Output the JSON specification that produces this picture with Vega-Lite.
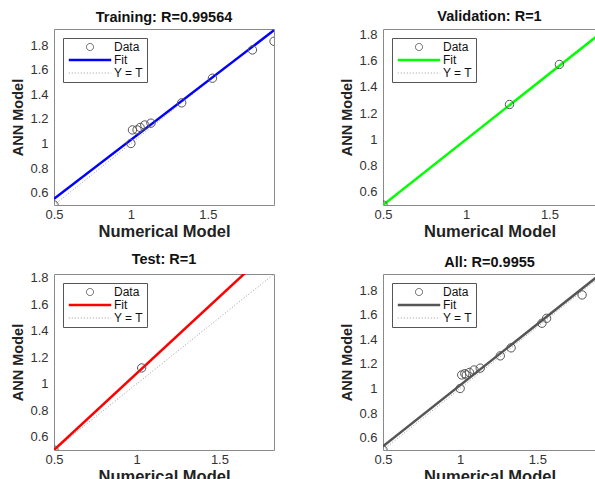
{
  "$schema": "https://vega.github.io/schema/vega-lite/v6.json",
  "padding": {"left": 10, "top": 8, "right": 0, "bottom": 0},
  "autosize": {"type": "pad"},
  "config": {
    "font": "Liberation Sans",
    "view": {"stroke": "#8a8a8a", "strokeWidth": 1},
    "title": {"fontSize": 14.5, "fontWeight": "bold", "color": "#111111", "offset": 4, "font": "Liberation Sans"},
    "axis": {"grid": false, "ticks": false, "domain": false, "labelFontSize": 13, "labelColor": "#333333", "labelFont": "Liberation Sans", "titleFont": "Liberation Sans", "titleFontWeight": "bold", "titleColor": "#222222", "labelFlush": false, "labelOverlap": false, "format": "~g"},
    "axisX": {"labelPadding": 3, "titlePadding": 2, "titleFontSize": 16.5},
    "axisY": {"labelPadding": 6, "titlePadding": 4, "titleFontSize": 14.5},
    "legend": {
      "orient": "top-left", "offset": 9, "title": null,
      "strokeColor": "#555555", "fillColor": "white", "padding": 3,
      "labelFontSize": 12, "labelFont": "Liberation Sans", "labelColor": "#111111",
      "symbolSize": 50, "symbolOffset": 18, "labelOffset": 18, "rowPadding": 1,
      "symbolStrokeWidth": 1, "labelLimit": 60
    }
  },
  "datasets": {
    "d": [
      {"panel": "Training", "series": "Data", "x": 0.5, "y": 0.5},
      {"panel": "Training", "series": "Data", "x": 1.0, "y": 1.0},
      {"panel": "Training", "series": "Data", "x": 1.01, "y": 1.11},
      {"panel": "Training", "series": "Data", "x": 1.04, "y": 1.11},
      {"panel": "Training", "series": "Data", "x": 1.06, "y": 1.13},
      {"panel": "Training", "series": "Data", "x": 1.09, "y": 1.15},
      {"panel": "Training", "series": "Data", "x": 1.13, "y": 1.165},
      {"panel": "Training", "series": "Data", "x": 1.33, "y": 1.33},
      {"panel": "Training", "series": "Data", "x": 1.53, "y": 1.53},
      {"panel": "Training", "series": "Data", "x": 1.79, "y": 1.76},
      {"panel": "Training", "series": "Data", "x": 1.93, "y": 1.83},
      {"panel": "Training", "series": "Fit", "x": 0.5, "y": 0.55},
      {"panel": "Training", "series": "Fit", "x": 1.93, "y": 1.92},
      {"panel": "Training", "series": "Y = T", "x": 0.5, "y": 0.5},
      {"panel": "Training", "series": "Y = T", "x": 1.93, "y": 1.93},
      {"panel": "Validation", "series": "Data", "x": 0.5, "y": 0.5},
      {"panel": "Validation", "series": "Data", "x": 1.26, "y": 1.265},
      {"panel": "Validation", "series": "Data", "x": 1.56, "y": 1.57},
      {"panel": "Validation", "series": "Fit", "x": 0.5, "y": 0.5},
      {"panel": "Validation", "series": "Fit", "x": 1.84, "y": 1.84},
      {"panel": "Validation", "series": "Y = T", "x": 0.5, "y": 0.5},
      {"panel": "Validation", "series": "Y = T", "x": 1.84, "y": 1.84},
      {"panel": "Test", "series": "Data", "x": 0.5, "y": 0.5},
      {"panel": "Test", "series": "Data", "x": 1.03, "y": 1.12},
      {"panel": "Test", "series": "Fit", "x": 0.5, "y": 0.5},
      {"panel": "Test", "series": "Fit", "x": 1.83, "y": 2.04},
      {"panel": "Test", "series": "Y = T", "x": 0.5, "y": 0.5},
      {"panel": "Test", "series": "Y = T", "x": 1.83, "y": 1.83},
      {"panel": "All", "series": "Data", "x": 0.5, "y": 0.5},
      {"panel": "All", "series": "Data", "x": 1.0, "y": 1.0},
      {"panel": "All", "series": "Data", "x": 1.01, "y": 1.11},
      {"panel": "All", "series": "Data", "x": 1.03, "y": 1.12},
      {"panel": "All", "series": "Data", "x": 1.04, "y": 1.11},
      {"panel": "All", "series": "Data", "x": 1.06, "y": 1.13},
      {"panel": "All", "series": "Data", "x": 1.09, "y": 1.15},
      {"panel": "All", "series": "Data", "x": 1.13, "y": 1.165},
      {"panel": "All", "series": "Data", "x": 1.26, "y": 1.265},
      {"panel": "All", "series": "Data", "x": 1.33, "y": 1.33},
      {"panel": "All", "series": "Data", "x": 1.53, "y": 1.53},
      {"panel": "All", "series": "Data", "x": 1.56, "y": 1.57},
      {"panel": "All", "series": "Data", "x": 1.79, "y": 1.76},
      {"panel": "All", "series": "Data", "x": 1.93, "y": 1.83},
      {"panel": "All", "series": "Fit", "x": 0.5, "y": 0.53},
      {"panel": "All", "series": "Fit", "x": 1.93, "y": 1.95},
      {"panel": "All", "series": "Y = T", "x": 0.5, "y": 0.5},
      {"panel": "All", "series": "Y = T", "x": 1.93, "y": 1.93}
    ]
  },
  "data": {"name": "d"},
  "columns": 2,
  "spacing": {"row": 69, "column": 109},
  "bounds": "flush",
  "resolve": {"scale": {"color": "independent"}, "legend": {"color": "independent"}},
  "concat": [
    {
      "width": 220, "height": 176,
      "title": "Training: R=0.99564",
      "transform": [{"filter": "datum.panel === 'Training'"}],
      "encoding": {
        "x": {"field": "x", "type": "quantitative", "scale": {"domain": [0.5, 1.93], "nice": false, "zero": false}, "axis": {"title": "Numerical Model", "values": [0.5, 1, 1.5]}},
        "y": {"field": "y", "type": "quantitative", "scale": {"domain": [0.5, 1.93], "nice": false, "zero": false}, "axis": {"title": "ANN Model", "values": [0.6, 0.8, 1, 1.2, 1.4, 1.6, 1.8]}},
        "color": {"field": "series", "type": "nominal", "scale": {"domain": ["Data", "Fit", "Y = T"], "range": ["#555555", "#0000ff", "#9a9a9a"]},
          "legend": {"encode": {"symbols": {"update": {
            "shape": {"signal": "datum.value === 'Data' ? 'circle' : 'M-6,0H6'"},
            "strokeWidth": {"signal": "datum.value === 'Fit' ? 2.5 : 1"},
            "strokeDash": {"signal": "datum.value === 'Y = T' ? [1,2] : [1,0]"},
            "fill": {"value": "transparent"}, "opacity": {"value": 1}}}}}}
      },
      "layer": [
        {"transform": [{"filter": "datum.series === 'Y = T'"}], "mark": {"type": "line", "clip": true, "strokeWidth": 1, "strokeDash": [1, 2]}, "encoding": {}},
        {"transform": [{"filter": "datum.series === 'Fit'"}], "mark": {"type": "line", "clip": true, "strokeWidth": 2.5}, "encoding": {}},
        {"transform": [{"filter": "datum.series === 'Data'"}], "mark": {"type": "point", "shape": "circle", "filled": false, "size": 70, "opacity": 1, "strokeWidth": 1, "clip": true}, "encoding": {}}
      ]
    },
    {
      "width": 213, "height": 176,
      "title": "Validation: R=1",
      "transform": [{"filter": "datum.panel === 'Validation'"}],
      "encoding": {
        "x": {"field": "x", "type": "quantitative", "scale": {"domain": [0.5, 1.78], "nice": false, "zero": false}, "axis": {"title": "Numerical Model", "values": [0.5, 1, 1.5]}},
        "y": {"field": "y", "type": "quantitative", "scale": {"domain": [0.5, 1.84], "nice": false, "zero": false}, "axis": {"title": "ANN Model", "values": [0.6, 0.8, 1, 1.2, 1.4, 1.6, 1.8]}},
        "color": {"field": "series", "type": "nominal", "scale": {"domain": ["Data", "Fit", "Y = T"], "range": ["#555555", "#00ff00", "#9a9a9a"]},
          "legend": {"encode": {"symbols": {"update": {
            "shape": {"signal": "datum.value === 'Data' ? 'circle' : 'M-6,0H6'"},
            "strokeWidth": {"signal": "datum.value === 'Fit' ? 2.5 : 1"},
            "strokeDash": {"signal": "datum.value === 'Y = T' ? [1,2] : [1,0]"},
            "fill": {"value": "transparent"}, "opacity": {"value": 1}}}}}}
      },
      "layer": [
        {"transform": [{"filter": "datum.series === 'Y = T'"}], "mark": {"type": "line", "clip": true, "strokeWidth": 1, "strokeDash": [1, 2]}, "encoding": {}},
        {"transform": [{"filter": "datum.series === 'Fit'"}], "mark": {"type": "line", "clip": true, "strokeWidth": 2.5}, "encoding": {}},
        {"transform": [{"filter": "datum.series === 'Data'"}], "mark": {"type": "point", "shape": "circle", "filled": false, "size": 70, "opacity": 1, "strokeWidth": 1, "clip": true}, "encoding": {}}
      ]
    },
    {
      "width": 220, "height": 176,
      "title": "Test: R=1",
      "transform": [{"filter": "datum.panel === 'Test'"}],
      "encoding": {
        "x": {"field": "x", "type": "quantitative", "scale": {"domain": [0.5, 1.83], "nice": false, "zero": false}, "axis": {"title": "Numerical Model", "values": [0.5, 1, 1.5]}},
        "y": {"field": "y", "type": "quantitative", "scale": {"domain": [0.5, 1.83], "nice": false, "zero": false}, "axis": {"title": "ANN Model", "values": [0.6, 0.8, 1, 1.2, 1.4, 1.6, 1.8]}},
        "color": {"field": "series", "type": "nominal", "scale": {"domain": ["Data", "Fit", "Y = T"], "range": ["#555555", "#ff0000", "#9a9a9a"]},
          "legend": {"encode": {"symbols": {"update": {
            "shape": {"signal": "datum.value === 'Data' ? 'circle' : 'M-6,0H6'"},
            "strokeWidth": {"signal": "datum.value === 'Fit' ? 2.5 : 1"},
            "strokeDash": {"signal": "datum.value === 'Y = T' ? [1,2] : [1,0]"},
            "fill": {"value": "transparent"}, "opacity": {"value": 1}}}}}}
      },
      "layer": [
        {"transform": [{"filter": "datum.series === 'Y = T'"}], "mark": {"type": "line", "clip": true, "strokeWidth": 1, "strokeDash": [1, 2]}, "encoding": {}},
        {"transform": [{"filter": "datum.series === 'Fit'"}], "mark": {"type": "line", "clip": true, "strokeWidth": 2.5}, "encoding": {}},
        {"transform": [{"filter": "datum.series === 'Data'"}], "mark": {"type": "point", "shape": "circle", "filled": false, "size": 70, "opacity": 1, "strokeWidth": 1, "clip": true}, "encoding": {}}
      ]
    },
    {
      "width": 213, "height": 176,
      "title": "All: R=0.9955",
      "transform": [{"filter": "datum.panel === 'All'"}],
      "encoding": {
        "x": {"field": "x", "type": "quantitative", "scale": {"domain": [0.5, 1.88], "nice": false, "zero": false}, "axis": {"title": "Numerical Model", "values": [0.5, 1, 1.5]}},
        "y": {"field": "y", "type": "quantitative", "scale": {"domain": [0.5, 1.93], "nice": false, "zero": false}, "axis": {"title": "ANN Model", "values": [0.6, 0.8, 1, 1.2, 1.4, 1.6, 1.8]}},
        "color": {"field": "series", "type": "nominal", "scale": {"domain": ["Data", "Fit", "Y = T"], "range": ["#555555", "#555555", "#9a9a9a"]},
          "legend": {"encode": {"symbols": {"update": {
            "shape": {"signal": "datum.value === 'Data' ? 'circle' : 'M-6,0H6'"},
            "strokeWidth": {"signal": "datum.value === 'Fit' ? 2.5 : 1"},
            "strokeDash": {"signal": "datum.value === 'Y = T' ? [1,2] : [1,0]"},
            "fill": {"value": "transparent"}, "opacity": {"value": 1}}}}}}
      },
      "layer": [
        {"transform": [{"filter": "datum.series === 'Y = T'"}], "mark": {"type": "line", "clip": true, "strokeWidth": 1, "strokeDash": [1, 2]}, "encoding": {}},
        {"transform": [{"filter": "datum.series === 'Fit'"}], "mark": {"type": "line", "clip": true, "strokeWidth": 2.5}, "encoding": {}},
        {"transform": [{"filter": "datum.series === 'Data'"}], "mark": {"type": "point", "shape": "circle", "filled": false, "size": 70, "opacity": 1, "strokeWidth": 1, "clip": true}, "encoding": {}}
      ]
    }
  ]
}
